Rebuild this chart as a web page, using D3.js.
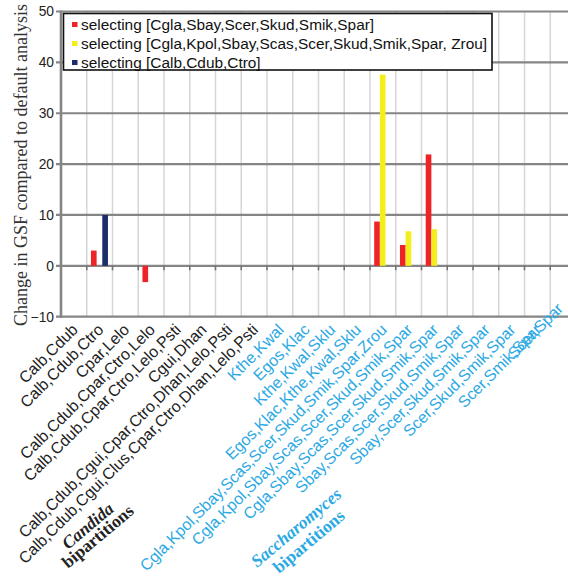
<!DOCTYPE html>
<html>
<head>
<meta charset="utf-8">
<script src="https://cdn.jsdelivr.net/npm/d3@7"></script>
<style>
  html, body { margin: 0; padding: 0; background: #fff; }
  svg { display: block; }
</style>
</head>
<body>
<svg id="chart" width="568" height="581"></svg>
<script>
// Bipartition labels along the x axis
const candidaLabels = [
  "Calb,Cdub",
  "Calb,Cdub,Ctro",
  "Cpar,Lelo",
  "Calb,Cdub,Cpar,Ctro,Lelo",
  "Calb,Cdub,Cpar,Ctro,Lelo,Psti",
  "Cgui,Dhan",
  "Calb,Cdub,Cgui,Cpar,Ctro,Dhan,Lelo,Psti",
  "Calb,Cdub,Cgui,Clus,Cpar,Ctro,Dhan,Lelo,Psti"
];
const saccharomycesLabels = [
  "Kthe,Kwal",
  "Egos,Klac",
  "Kthe,Kwal,Sklu",
  "Egos,Klac,Kthe,Kwal,Sklu",
  "Cgla,Kpol,Sbay,Scas,Scer,Skud,Smik,Spar,Zrou",
  "Cgla,Kpol,Sbay,Scas,Scer,Skud,Smik,Spar",
  "Cgla,Sbay,Scas,Scer,Skud,Smik,Spar",
  "Sbay,Scas,Scer,Skud,Smik,Spar",
  "Sbay,Scer,Skud,Smik,Spar",
  "Scer,Skud,Smik,Spar",
  "Scer,Smik,Spar",
  "Scer,Spar"
];
const categories = candidaLabels.concat(saccharomycesLabels);

// Series names (legend) and their change in GSF for each bipartition
const seriesNames = [
  "selecting [Cgla,Sbay,Scer,Skud,Smik,Spar]",
  "selecting [Cgla,Kpol,Sbay,Scas,Scer,Skud,Smik,Spar, Zrou]",
  "selecting [Calb,Cdub,Ctro]"
];
const redValues    = [0, 3.0, 0, -3.2, 0, 0, 0, 0,  0, 0, 0, 0, 8.7, 4.1, 21.9, 0, 0, 0, 0, 0];
const yellowValues = [0, 0,   0,  0,   0, 0, 0, 0,  0, 0, 0, 0, 37.6, 6.8, 7.2, 0, 0, 0, 0, 0];
const navyValues   = [0, 10.0, 0, 0,   0, 0, 0, 0,  0, 0, 0, 0, 0,   0,   0,   0, 0, 0, 0, 0];
const seriesColors = ["#ee2328", "#f4ef1c", "#1d2c6a"];

const yTicks = [-10, 0, 10, 20, 30, 40, 50];
const yTitle = "Change in GSF compared to default analysis";

const blue = "#2aa9e4";
const svg = d3.select("#chart");
svg.append("rect").attr("width", 568).attr("height", 581).attr("fill", "#fff");

const pLeft = 61, pRight = 576, pTop = 11.5, pBottom = 316.7;
const y = d3.scaleLinear().domain([-10, 50]).range([pBottom, pTop]);
const x = d3.scaleBand().domain(categories).range([pLeft, pRight]).padding(0);
const sub = d3.scaleBand().domain(d3.range(3)).range([4.2, 21.2]).padding(0);

const plot = svg.append("g");

// vertical grid lines at category boundaries
plot.selectAll("line.vgrid")
  .data(categories.slice(1))
  .join("line")
  .attr("class", "vgrid")
  .attr("x1", d => x(d)).attr("x2", d => x(d))
  .attr("y1", pTop).attr("y2", pBottom)
  .attr("stroke", "#d6d6d6").attr("stroke-width", 1.5);

// horizontal major grid lines
plot.selectAll("line.hgrid")
  .data(yTicks)
  .join("line")
  .attr("class", "hgrid")
  .attr("x1", pLeft - 5).attr("x2", pRight)
  .attr("y1", d => y(d)).attr("y2", d => y(d))
  .attr("stroke", "#858585").attr("stroke-width", 2.2);

// left axis line
plot.append("line")
  .attr("x1", pLeft).attr("x2", pLeft)
  .attr("y1", pTop - 1).attr("y2", pBottom + 1)
  .attr("stroke", "#858585").attr("stroke-width", 2.6);

// small tick marks below the zero line at category boundaries
plot.selectAll("line.ztick")
  .data(categories.slice(1))
  .join("line")
  .attr("class", "ztick")
  .attr("x1", d => x(d)).attr("x2", d => x(d))
  .attr("y1", y(0)).attr("y2", y(0) + 4.5)
  .attr("stroke", "#6f6f6f").attr("stroke-width", 1.5);

// y tick labels
const yAxis = d3.axisLeft(y).tickValues(yTicks).tickSize(0).tickPadding(7);
const yg = svg.append("g").attr("transform", `translate(${pLeft},0)`).call(yAxis);
yg.select(".domain").remove();
yg.selectAll("text")
  .attr("font-family", "Liberation Sans, Arial, sans-serif")
  .attr("font-size", 13.8)
  .attr("fill", "#222");

// y axis title
svg.append("text")
  .attr("transform", `translate(27,165) rotate(-90)`)
  .attr("text-anchor", "middle")
  .attr("font-family", "Liberation Serif, Times New Roman, serif")
  .attr("font-size", 18)
  .attr("fill", "#333")
  .text(yTitle);

// bars
const series = [redValues, yellowValues, navyValues];
series.forEach((vals, s) => {
  plot.selectAll(`rect.s${s}`)
    .data(vals.map((v, i) => ({ v, c: categories[i] })).filter(d => d.v !== 0))
    .join("rect")
    .attr("class", `s${s}`)
    .attr("x", d => x(d.c) + sub(s))
    .attr("width", sub.bandwidth())
    .attr("y", d => y(Math.max(0, d.v)))
    .attr("height", d => Math.abs(y(d.v) - y(0)))
    .attr("fill", seriesColors[s]);
});

// x axis labels, rotated; the last one is raised to stay inside the frame
const xAxis = d3.axisBottom(x).tickSize(0);
const xg = svg.append("g").attr("transform", `translate(0,${pBottom})`).call(xAxis);
xg.select(".domain").remove();
xg.selectAll("text")
  .attr("x", 0).attr("y", 0).attr("dy", 0)
  .attr("text-anchor", "end")
  .attr("font-family", "Liberation Sans, Arial, sans-serif")
  .attr("font-size", 16)
  .attr("fill", (d, i) => i < candidaLabels.length ? "#222" : blue)
  .attr("transform", (d, i) => {
    const last = i === categories.length - 1;
    return `translate(${last ? 1 : 5},${last ? -7 : 14}) rotate(-45)`;
  });

// group captions under the labels
function caption(xp, yp, word, italicWord, color) {
  const t = svg.append("text")
    .attr("transform", `translate(${xp},${yp}) rotate(-40)`)
    .attr("font-family", "Liberation Serif, Times New Roman, serif")
    .attr("font-size", 17.5)
    .attr("font-weight", "bold")
    .attr("fill", color)
    .text(word);
  if (italicWord) t.attr("font-style", "italic");
}
caption(68, 550, "Candida", true, "#222");
caption(68, 569, "bipartitions", false, "#222");
caption(257, 568, "Saccharomyces", true, blue);
caption(279, 574, "bipartitions", false, blue);

// legend
const lg = svg.append("g");
lg.append("rect")
  .attr("x", 63.5).attr("y", 13.5).attr("width", 428.5).attr("height", 56.5)
  .attr("fill", "#fff").attr("stroke", "#111").attr("stroke-width", 1.6);
seriesNames.forEach((name, i) => {
  const cy = 24.5 + i * 19;
  lg.append("rect")
    .attr("x", 72).attr("y", cy - 2.5).attr("width", 5.5).attr("height", 5)
    .attr("fill", seriesColors[i]);
  lg.append("text")
    .attr("x", 81).attr("y", cy + 5.2)
    .attr("font-family", "Liberation Sans, Arial, sans-serif")
    .attr("font-size", 15.4)
    .attr("fill", "#111")
    .text(name);
});
</script>
</body>
</html>
